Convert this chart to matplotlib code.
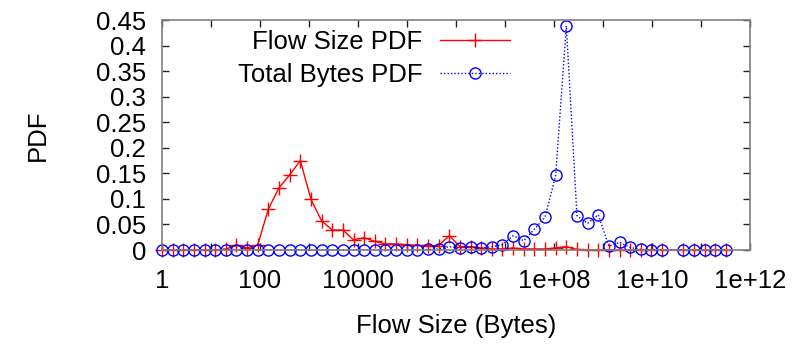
import matplotlib
matplotlib.use("Agg")
import matplotlib.pyplot as plt

plt.rcParams['font.family'] = ['Liberation Sans', 'DejaVu Sans']

# bin centres (bytes), roughly e^(k/2); bin k=48 is absent
flow_size = [1, 1.65, 2.72, 4.48, 7.39, 12.2, 20.1, 33.1, 54.6, 90.0,
             148, 245, 403, 665, 1097, 1808, 2981, 4915, 8103, 13360,
             22026, 36316, 59874, 98716, 162755, 268337, 442413, 729416,
             1202604, 1982759, 3269017, 5389698, 8886111, 14650719,
             24154953, 39824784, 65659969, 108254988, 178482301,
             294267566, 485165195, 799902177, 1318815734, 2174359553,
             3584912846, 5910522063, 9744803446, 16066464720,
             43673179097, 72004899337, 118716009132, 195729609429,
             322703570371]

flow_pdf = [0, 0, 0, 0, 0, 0, 0.002, 0.009, 0.004, 0.010,
            0.080, 0.122, 0.147, 0.175, 0.099, 0.057, 0.039, 0.039, 0.020, 0.024,
            0.017, 0.012, 0.012, 0.0105, 0.009, 0.008, 0.0086, 0.028,
            0.0065, 0.0065, 0.004, 0.002, 0.002, 0.004,
            0.002, 0.002, 0.002, 0.004, 0.0065,
            0.001, 0.0005, 0, 0, 0,
            0, 0, 0, 0,
            0, 0, 0, 0,
            0]

bytes_pdf = [0, 0, 0, 0, 0, 0, 0, 0, 0, 0,
             0, 0, 0, 0, 0, 0, 0, 0, 0, 0,
             0, 0, 0, 0, 0, 0.001, 0.002, 0.0065,
             0.004, 0.0065, 0.004, 0.0065, 0.0105, 0.028,
             0.018, 0.041, 0.064, 0.146, 0.4385,
             0.067, 0.052, 0.069, 0.007, 0.015,
             0.005, 0.001, 0, 0,
             0, 0, 0, 0,
             0]

x_tick_vals = [10.0 ** e for e in range(0, 13)]
x_tick_labels = ['1', '', '100', '', '10000', '', '1e+06', '', '1e+08', '',
                 '1e+10', '', '1e+12']
y_tick_vals = [0, 0.05, 0.1, 0.15, 0.2, 0.25, 0.3, 0.35, 0.4, 0.45]
y_tick_labels = ['0', '0.05', '0.1', '0.15', '0.2', '0.25', '0.3', '0.35', '0.4', '0.45']

FS = 18.5
fig = plt.figure(figsize=(8.09, 3.46), dpi=100)
ax = fig.add_axes([162 / 809, 1 - 250 / 346, (750 - 162) / 809, (250 - 20) / 346])

ax.plot(flow_size, flow_pdf, color='#ff0000', lw=1.0, marker='+', ms=10,
        mew=1.0, label='Flow Size PDF', clip_on=False)
ax.plot(flow_size, bytes_pdf, color='#0000ff', lw=1.0, ls=(0, (1, 1.5)),
        marker='o', ms=8, mfc='none', mew=1.0, label='Total Bytes PDF',
        clip_on=False)

ax.set_xscale('log')
ax.set_xlim(1, 1e12)
ax.set_ylim(0, 0.45)
ax.set_xticks(x_tick_vals)
ax.set_xticklabels(x_tick_labels)
ax.xaxis.set_minor_locator(matplotlib.ticker.NullLocator())
ax.set_yticks(y_tick_vals)
ax.set_yticklabels(y_tick_labels)

ax.tick_params(axis='both', which='major', direction='in', length=5, width=1,
               top=True, right=True, labelsize=FS, color='#222222')
ax.tick_params(axis='x', pad=14)
ax.tick_params(axis='y', pad=11.5)
for s in ax.spines.values():
    s.set_color('#808080')
    s.set_linewidth(1.2)

ax.set_xlabel('Flow Size (Bytes)', fontsize=FS)
ax.xaxis.set_label_coords(0.5, -0.28)
ax.set_ylabel('PDF', fontsize=FS)
ax.yaxis.set_label_coords(-0.19, 0.5)

leg = ax.legend(loc='upper right', bbox_to_anchor=(0.592, 0.955), frameon=False,
                markerfirst=False, fontsize=FS, handlelength=2.72,
                labelspacing=0.35, handletextpad=0.7, borderpad=0,
                borderaxespad=0)

fig.savefig('out.png', dpi=100)
